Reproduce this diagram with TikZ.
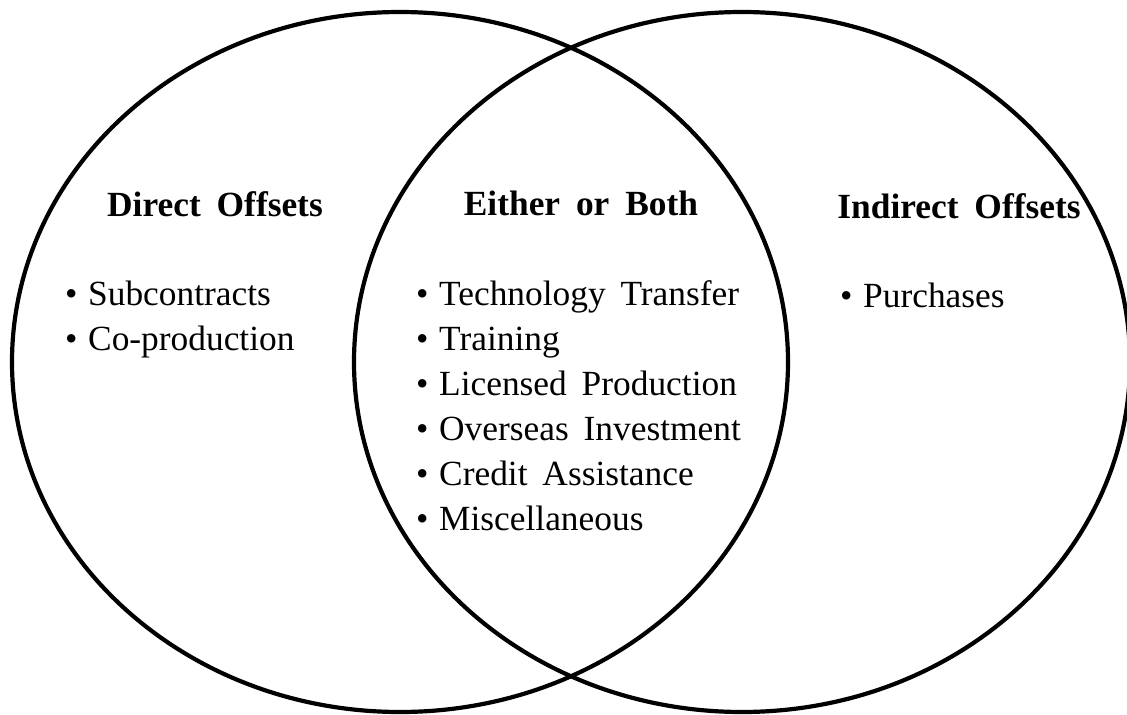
\documentclass[tikz,border=0pt]{standalone}
\usepackage{fontspec}
\setmainfont{Liberation Serif}
\usepackage{tikz}

\newcommand{\itm}[1]{\makebox[23bp][l]{\textbullet}#1}

\begin{document}
\begin{tikzpicture}[x=1bp,y=-1bp,
    vtext/.style={inner sep=0pt,font=\fontsize{35.5}{45}\selectfont,
        execute at begin node={\spaceskip=0.42em\relax}},
    vhead/.style={inner sep=0pt,font=\fontsize{35.5}{45}\selectfont\bfseries,anchor=base,
        execute at begin node={\spaceskip=0.45em\relax}},
    vitem/.style={vtext,anchor=base west}]
        \useasboundingbox (0,0) rectangle (1127,715);

        % Circles
        \draw[line width=4.2bp] (400,362) ellipse [x radius=388, y radius=350];
        \draw[line width=4.2bp] (742,362) ellipse [x radius=388, y radius=350];

        % Headings
        \node[vhead] (direct) at (215,217) {Direct Offsets};
        \node[vhead] (either) at (581,216) {Either or Both};
        \node[vhead] (indirect) at (959,219) {Indirect Offsets};

        % Items
        \foreach \txt [count=\i] in {Subcontracts,Co-production}
            \node[vitem] (direct-\i) at (65,305+45*\i-45) {\itm{\txt}};
        \foreach \txt [count=\i] in {Technology Transfer,Training,Licensed Production,Overseas Investment,Credit Assistance,Miscellaneous}
            \node[vitem] (either-\i) at (416,305+45*\i-45) {\itm{\txt}};
        \node[vitem] (indirect-1) at (840,307) {\itm{Purchases}};
    \end{tikzpicture}
\end{document}
